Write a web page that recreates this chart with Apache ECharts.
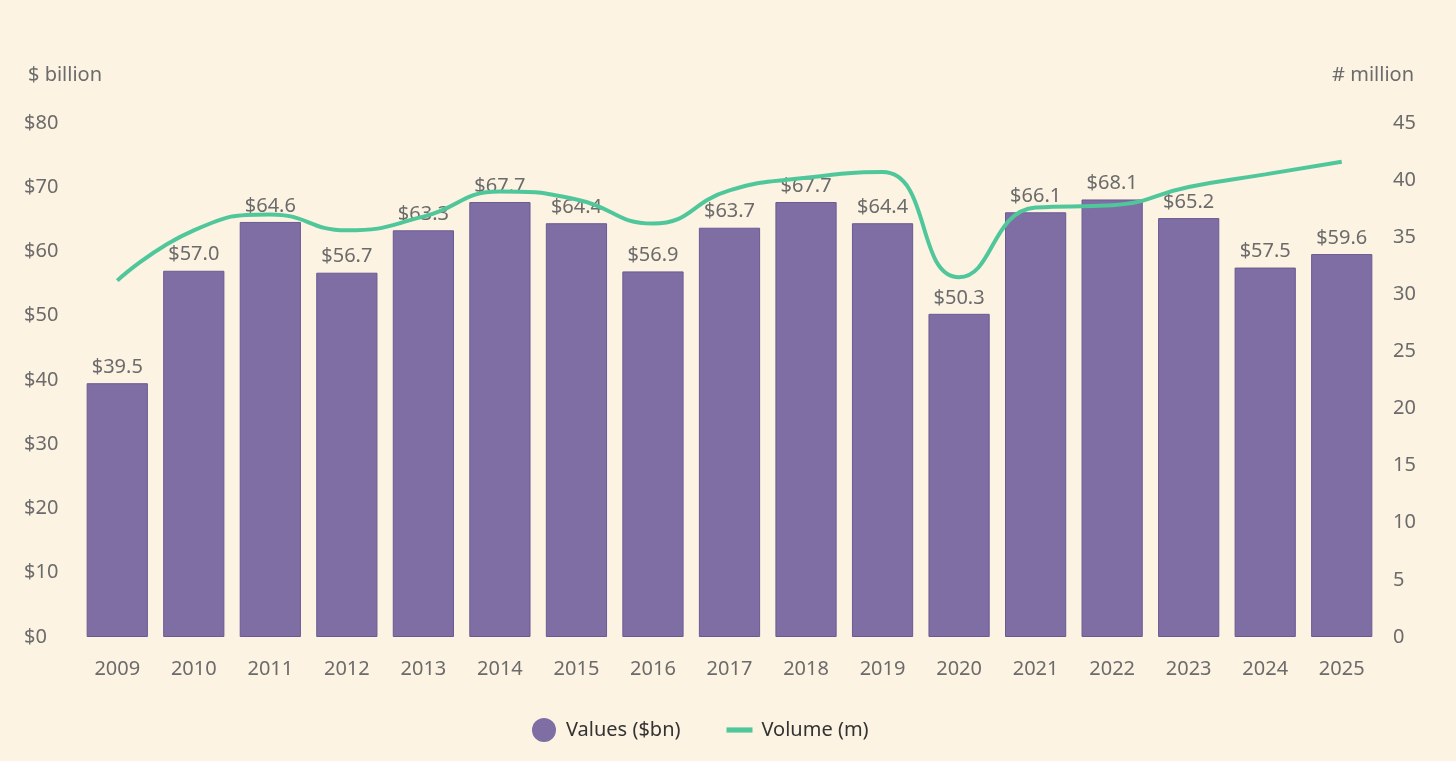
<!DOCTYPE html>
<html>
<head>
<meta charset="utf-8">
<script src="https://cdn.jsdelivr.net/npm/echarts@6/dist/echarts.min.js"></script>
<style>
  html, body { margin: 0; padding: 0; background: #fcf3e3; }
  #chart { width: 1456px; height: 761px; }
</style>
</head>
<body>
<div id="chart"></div>
<script>
// categories and series
const years = ['2009', '2010', '2011', '2012', '2013', '2014', '2015', '2016', '2017',
    '2018', '2019', '2020', '2021', '2022', '2023', '2024', '2025'];
const values = [39.5, 57.0, 64.6, 56.7, 63.3, 67.7, 64.4, 56.9, 63.7,
    67.7, 64.4, 50.3, 66.1, 68.1, 65.2, 57.5, 59.6];
const volume = [31.2, 35.6, 37.0, 35.6, 36.8, 39.0, 38.3, 36.2, 39.1,
    40.2, 40.7, 31.5, 37.6, 37.8, 39.4, 40.5, 41.6];

const font = 'Noto Sans';
const grey = '#6b6b6b';

let chart = echarts.init(document.getElementById('chart'));
let option = {
    backgroundColor: '#fcf3e3',
    textStyle: { fontFamily: font },
    title: [
        {
            text: '$ billion',
            left: 23, top: 60,
            textStyle: { fontFamily: font, fontSize: 20, fontWeight: 'normal', color: grey }
        },
        {
            text: '# million',
            right: 37, top: 60,
            textStyle: { fontFamily: font, fontSize: 20, fontWeight: 'normal', color: grey }
        }
    ],
    legend: {
        bottom: 14,
        left: 527,
        itemGap: 46,
        itemWidth: 26,
        itemHeight: 24,
        textStyle: { fontFamily: font, fontSize: 20, color: '#333', padding: [0, 0, 0, 4] },
        data: [
            { name: 'Values ($bn)', icon: 'circle', itemStyle: { borderWidth: 0 } },
            { name: 'Volume (m)', icon: 'path://M0,0 L10,0 L10,2 L0,2 Z' }
        ]
    },
    grid: {
        left: 79,
        right: 76,
        top: 123,
        bottom: 124
    },
    xAxis: {
        type: 'category',
        data: years,
        axisLine: { show: false },
        axisTick: { show: false },
        axisLabel: { color: grey, fontSize: 20, margin: 22, fontFamily: font }
    },
    yAxis: [
        {
            type: 'value',
            min: 0, max: 80, interval: 10,
            splitLine: { show: false },
            axisLine: { show: false },
            axisTick: { show: false },
            axisLabel: {
                color: grey, fontSize: 20, fontFamily: font,
                align: 'left', margin: 55,
                formatter: function (v) { return '$' + v; }
            }
        },
        {
            type: 'value',
            min: 0, max: 45, interval: 5,
            splitLine: { show: false },
            axisLine: { show: false },
            axisTick: { show: false },
            axisLabel: { color: grey, fontSize: 20, fontFamily: font, margin: 13 }
        }
    ],
    series: [
        {
            name: 'Values ($bn)',
            type: 'bar',
            data: values,
            barCategoryGap: '20%',
            itemStyle: { color: '#7f6ea4', borderColor: '#6a5a92', borderWidth: 1 },
            label: {
                show: true,
                position: 'top',
                distance: 6,
                color: grey,
                fontSize: 20,
                fontFamily: font,
                formatter: function (p) { return '$' + p.value.toFixed(1); }
            }
        },
        {
            name: 'Volume (m)',
            type: 'line',
            yAxisIndex: 1,
            data: volume,
            smooth: 0.5,
            symbol: 'none',
            z: 5,
            itemStyle: { color: '#4fc79b' },
            lineStyle: { color: '#4fc79b', width: 4 }
        }
    ]
};
chart.setOption(option);
</script>
</body>
</html>
